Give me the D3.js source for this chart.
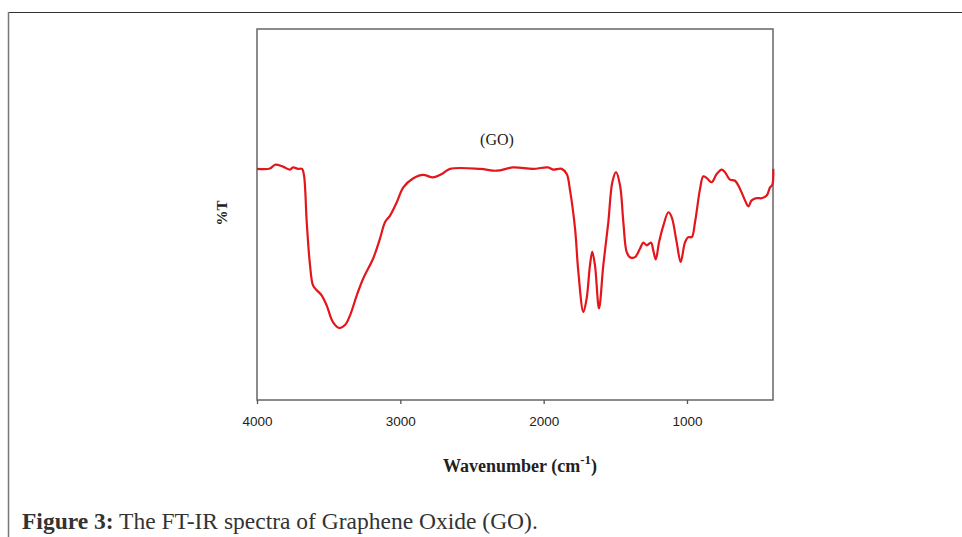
<!DOCTYPE html>
<html>
<head>
<meta charset="utf-8">
<script src="https://cdn.jsdelivr.net/npm/d3@7"></script>
<style>
  html, body { margin: 0; padding: 0; background: #fff; }
  svg { display: block; }
</style>
</head>
<body>
<div id="chart"></div>
<script>
"use strict";

// Spectrum: wavenumber (cm-1) and %T (arbitrary scale)
const wavenumbers = [4000, 3909, 3874, 3819, 3770, 3749, 3714, 3686, 3672, 3653,
    3630, 3609, 3583, 3549, 3514, 3470, 3426, 3386, 3351, 3304,
    3258, 3189, 3142, 3107, 3072, 3025, 2979, 2912, 2842, 2772,
    2711, 2653, 2444, 2328, 2212, 2074, 1970, 1935, 1874, 1839,
    1816, 1781, 1758, 1723, 1700, 1677, 1661, 1642, 1614, 1584,
    1549, 1521, 1495, 1467, 1444, 1421, 1398, 1363, 1328, 1305,
    1281, 1251, 1235, 1218, 1195, 1165, 1130, 1107, 1072, 1044,
    1014, 991, 967, 944, 909, 886, 862, 828, 793, 758,
    735, 700, 665, 630, 595, 572, 549, 514, 479, 444,
    421, 405, 398];
const transmittance = [62.3, 62.4, 63.4, 62.9, 62.1, 62.7, 62.3, 62.3, 60.5, 47.9,
    36.3, 30.9, 29.6, 28.2, 25.5, 21.0, 19.4, 20.2, 22.8, 28.2,
    32.8, 38.2, 43.5, 47.9, 49.7, 53.3, 57.3, 59.7, 60.7, 60.0,
    60.9, 62.3, 62.3, 61.8, 62.7, 62.3, 62.7, 62.1, 62.3, 60.9,
    56.5, 46.2, 34.5, 23.7, 27.4, 36.3, 39.9, 36.3, 24.7, 36.3,
    47.9, 58.7, 61.4, 57.8, 47.9, 39.9, 38.5, 38.5, 40.8, 42.4,
    41.7, 42.4, 40.3, 37.9, 42.5, 47.0, 50.6, 49.3, 42.5, 37.2,
    42.5, 43.9, 43.9, 47.9, 56.9, 60.3, 59.8, 58.7, 60.9, 62.1,
    61.4, 59.4, 59.1, 56.9, 53.8, 52.2, 53.8, 54.4, 54.4, 55.1,
    57.3, 58.0, 62.3];
const xTicks = [4000, 3000, 2000, 1000];

const width = 962, height = 537;
const box = { left: 257, right: 773, top: 29, bottom: 400 };

const svg = d3.select("#chart").append("svg")
    .attr("width", width)
    .attr("height", height);

// Page frame: top rule and left rule
svg.append("line")
    .attr("x1", 8).attr("x2", width).attr("y1", 12.5).attr("y2", 12.5)
    .attr("stroke", "#333").attr("stroke-width", 1.2);
svg.append("line")
    .attr("x1", 8.5).attr("x2", 8.5).attr("y1", 12).attr("y2", height)
    .attr("stroke", "#777").attr("stroke-width", 1.5);

const x = d3.scaleLinear()
    .domain([4000, 400])
    .range([box.left, box.right]);

const y = d3.scaleLinear()
    .domain([0, 100])
    .range([box.bottom, box.top]);

// Plot frame
svg.append("rect")
    .attr("x", box.left).attr("y", box.top)
    .attr("width", box.right - box.left)
    .attr("height", box.bottom - box.top)
    .attr("fill", "none")
    .attr("stroke", "#666")
    .attr("stroke-width", 1.5);

// X axis, ticks below the frame
svg.append("g")
    .attr("transform", `translate(0,${box.bottom})`)
    .call(d3.axisBottom(x).tickValues(xTicks).tickSize(4).tickPadding(12).tickFormat(d3.format("d")))
    .call(g => g.select(".domain").remove())
    .call(g => g.selectAll(".tick line").attr("stroke", "#555").attr("stroke-width", 1.3))
    .call(g => g.selectAll(".tick text")
        .attr("font-family", "Liberation Sans, Arial, sans-serif")
        .attr("font-size", 13.5)
        .attr("fill", "#222"));

const data = wavenumbers.map((w, i) => ({ w: w, t: transmittance[i] }));

const line = d3.line()
    .curve(d3.curveCatmullRom.alpha(0.5))
    .x(d => x(d.w))
    .y(d => y(d.t));

svg.append("path")
    .datum(data)
    .attr("fill", "none")
    .attr("stroke", "#e3161b")
    .attr("stroke-width", 2.2)
    .attr("stroke-linejoin", "round")
    .attr("d", line);

// Sample label
svg.append("text")
    .attr("x", 497).attr("y", 145)
    .attr("text-anchor", "middle")
    .attr("font-family", "Liberation Serif, Times New Roman, serif")
    .attr("font-size", 16)
    .attr("fill", "#222")
    .text("(GO)");

// Y axis title
svg.append("text")
    .attr("transform", "translate(227,213) rotate(-90)")
    .attr("text-anchor", "middle")
    .attr("font-family", "Liberation Serif, Times New Roman, serif")
    .attr("font-weight", "bold")
    .attr("font-size", 15)
    .attr("fill", "#222")
    .text("%T");

// X axis title with superscript
const xt = svg.append("text")
    .attr("x", 520).attr("y", 472)
    .attr("text-anchor", "middle")
    .attr("font-family", "Liberation Serif, Times New Roman, serif")
    .attr("font-weight", "bold")
    .attr("font-size", 18)
    .attr("fill", "#222");
xt.append("tspan").text("Wavenumber (cm");
xt.append("tspan").attr("dy", -8).attr("font-size", 13).text("-1");
xt.append("tspan").attr("dy", 8).text(")");

// Caption
const cap = svg.append("text")
    .attr("x", 22).attr("y", 529)
    .attr("font-family", "Liberation Serif, Times New Roman, serif")
    .attr("font-size", 23.5)
    .attr("fill", "#333");
cap.append("tspan").attr("font-weight", "bold").text("Figure 3:");
cap.append("tspan").text(" The FT-IR spectra of Graphene Oxide (GO).");
</script>
</body>
</html>
